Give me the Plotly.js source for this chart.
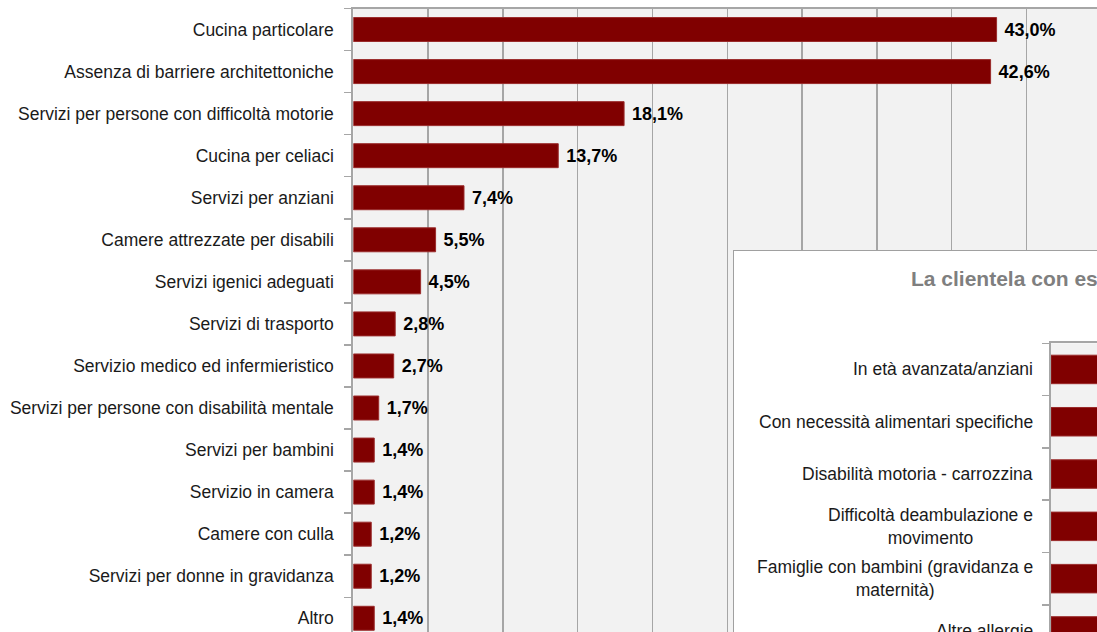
<!DOCTYPE html>
<html><head><meta charset="utf-8">
<script src="https://cdn.plot.ly/plotly-3.0.1.min.js"></script>
<style>
html,body{margin:0;padding:0;overflow:hidden;background:#fff;width:1097px;height:632px}
#chart{width:1200px;height:700px}
</style>
</head><body><div id="chart"></div>
<script>
// ---- data ----
const categories = [
  'Cucina particolare',
  'Assenza di barriere architettoniche',
  'Servizi per persone con difficoltà motorie',
  'Cucina per celiaci',
  'Servizi per anziani',
  'Camere attrezzate per disabili',
  'Servizi igenici adeguati',
  'Servizi di trasporto',
  'Servizio medico ed infermieristico',
  'Servizi per persone con disabilità mentale',
  'Servizi per bambini',
  'Servizio in camera',
  'Camere con culla',
  'Servizi per donne in gravidanza',
  'Altro'
];
const values = [43.0, 42.6, 18.1, 13.7, 7.4, 5.5, 4.5, 2.8, 2.7, 1.7, 1.4, 1.4, 1.2, 1.2, 1.4];
const xTicks = [0, 5, 10, 15, 20, 25, 30, 35, 40, 45, 50];

const insetTitle = 'La clientela con esigenze speciali';
const insetCategories = [
  'In età avanzata/anziani',
  'Con necessità alimentari specifiche',
  'Disabilità motoria - carrozzina',
  'Difficoltà deambulazione e<br>movimento',
  'Famiglie con bambini (gravidanza e<br>maternità)',
  'Altre allergie'
];
const insetValues = [62.0, 48.5, 40.2, 35.6, 30.1, 25.4];

// ---- styling ----
const W = 1200, H = 700;
const FONT = '"Liberation Sans", Arial, sans-serif';
const BAR = '#800000';
const BG = '#f2f2f2';
const GRID = '#a6a6a6';
const px = x => x / W;
const py = y => 1 - y / H;

const labels = values.map(v => '\u00a0' + v.toFixed(1).replace('.', ',') + '%');

const traces = [
  {
    type: 'bar', orientation: 'h',
    y: categories, x: values,
    xaxis: 'x', yaxis: 'y',
    width: 0.57,
    marker: {color: BAR, line: {color: '#9a2b2b', width: 1}},
    text: labels, textposition: 'outside', cliponaxis: false, constraintext: 'none',
    textfont: {family: FONT, size: 18, color: '#000', weight: 'bold'},
    hoverinfo: 'skip'
  },
  { // white panel of the inset frame (fills its own unit subplot)
    type: 'scatter', mode: 'none', fill: 'toself', fillcolor: '#ffffff',
    x: [0, 1, 1, 0, 0], y: [0, 0, 1, 1, 0],
    xaxis: 'x2', yaxis: 'y2', hoverinfo: 'skip'
  },
  {
    type: 'bar', orientation: 'h',
    y: insetCategories, x: insetValues,
    xaxis: 'x3', yaxis: 'y3',
    width: 0.545,
    marker: {color: BAR, line: {color: '#9a2b2b', width: 1}},
    hoverinfo: 'skip'
  }
];

const annotations = [
  {
    xref: 'paper', yref: 'paper', x: px(909), y: py(278),
    xanchor: 'left', yanchor: 'middle', showarrow: false,
    text: '<b>' + insetTitle + '</b>',
    font: {family: FONT, size: 21, color: '#7f7f7f'}
  }
].concat(insetCategories.map(c => ({
  xref: 'paper', yref: 'y3', x: px(1035), y: c,
  xanchor: 'right', yanchor: 'middle', align: 'center', showarrow: false,
  text: c, font: {family: FONT, size: 17.5, color: '#1a1a1a'}
})));

const noAxis = {showticklabels: false, ticks: '', showgrid: false, zeroline: false, fixedrange: true};

const layout = {
  width: W, height: H,
  margin: {l: 0, r: 0, t: 0, b: 0},
  paper_bgcolor: '#ffffff',
  plot_bgcolor: BG,
  showlegend: false,
  xaxis: {
    domain: [px(353.3), px(1101.3)],
    range: [0, 50], tickvals: xTicks, showticklabels: false, ticks: '',
    showgrid: true, gridcolor: GRID, gridwidth: 1.5, zeroline: false,
    showline: true, mirror: true, linecolor: GRID, linewidth: 2,
    fixedrange: true
  },
  yaxis: {
    domain: [py(639.3), py(8.5)],
    type: 'category', range: [categories.length - 0.5, -0.5],
    showgrid: false, zeroline: false,
    showline: true, linecolor: GRID, linewidth: 2,
    ticks: 'outside', tickson: 'boundaries', ticklen: 7, tickcolor: GRID, tickwidth: 1.5,
    tickfont: {family: FONT, size: 17.5, color: '#1a1a1a'},
    ticklabelstandoff: 14,
    fixedrange: true
  },
  xaxis2: Object.assign({}, noAxis, {
    domain: [px(734), 1], anchor: 'y2', range: [0, 1],
    showline: true, mirror: true, linecolor: '#a0a0a0', linewidth: 1.5
  }),
  yaxis2: Object.assign({}, noAxis, {
    domain: [0, py(251)], anchor: 'x2', range: [0, 1],
    showline: true, mirror: true, linecolor: '#a0a0a0', linewidth: 1.5
  }),
  xaxis3: Object.assign({}, noAxis, {
    domain: [px(1051), 1], anchor: 'y3', range: [0, 70],
    showline: true, mirror: true, linecolor: GRID, linewidth: 2
  }),
  yaxis3: {
    domain: [py(657.1), py(343.3)], anchor: 'x3',
    type: 'category', range: [insetCategories.length - 0.5, -0.5],
    showgrid: false, zeroline: false, showticklabels: false,
    showline: true, linecolor: GRID, linewidth: 2,
    ticks: 'outside', tickson: 'boundaries', ticklen: 7, tickcolor: GRID, tickwidth: 1.5,
    fixedrange: true
  },
  annotations: annotations
};

Plotly.newPlot('chart', traces, layout, {staticPlot: true, displayModeBar: false});
</script>
</body></html>
